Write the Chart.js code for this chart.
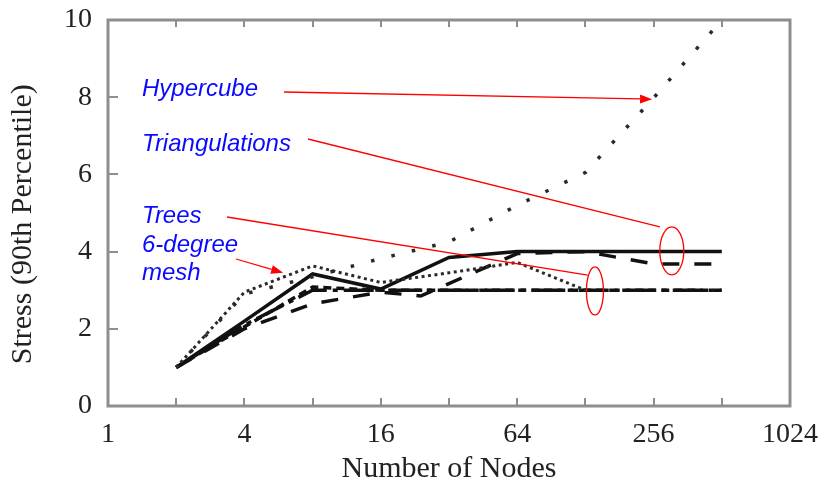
<!DOCTYPE html>
<html><head><meta charset="utf-8">
<script src="https://cdn.jsdelivr.net/npm/chart.js@4"></script>
<style>html,body{margin:0;padding:0;background:#fff;}#wrap{width:823px;height:487px;}</style>
</head><body><div id="wrap"><canvas id="c" width="823" height="487"></canvas></div>
<script>
// ---- data ----
const xTickValues = [1, 4, 16, 64, 256, 1024];
const xMinorTicks = [2, 4, 8, 16, 32, 64, 128, 256, 512];
const yTickValues = [0, 2, 4, 6, 8, 10];

const triangulationsN = [2, 4, 8, 16, 32, 64, 128, 256, 512];
const triangulationsY = [1, 2.2, 3.42, 3.03, 3.85, 4.0, 4.0, 4.0, 4.0];

const treesN = [2, 4, 8, 16, 24, 64, 128, 256, 512];
const treesY = [1, 2.0, 2.65, 2.95, 2.85, 3.95, 4.0, 3.68, 3.68];

const meshN = [2, 4, 8, 16, 32, 64, 128];
const meshY = [1, 2.95, 3.63, 3.2, 3.45, 3.72, 3.0];

const hypercubeN = [2, 4, 8, 16, 32, 64, 128, 256, 512];
const hypercubeY = [1, 2.9, 3.35, 3.82, 4.25, 5.2, 6.05, 7.98, 10];

const shortDashN = [2, 4, 8, 16, 32, 64, 128, 256, 512];
const shortDashY = [1, 2.05, 3.08, 3.0, 3.0, 3.0, 3.0, 3.0, 3.0];

const dashDotN = [2, 4, 8, 16, 32, 64, 128, 256, 512];
const dashDotY = [1, 2.1, 3.0, 3.0, 3.0, 3.0, 3.0, 3.0, 3.0];

// ---- annotations (labels in pixels, pointer targets in data units) ----
const noteTexts = ['Hypercube', 'Triangulations', 'Trees', '6-degree', 'mesh'];
const notePos = [[142, 96], [142, 151], [142, 223], [142, 252], [142, 280]];
const pointers = [
  {from: [284, 92], to: [252, 7.95], head: true},
  {from: [308, 139], to: [273, 4.64], head: false},
  {from: [227, 217], to: [131, 3.39], head: false},
  {from: [236, 259], to: [5.93, 3.45], head: true}
];
const ellipses = [
  {at: [308, 4.02], rx: 12, ry: 24},
  {at: [141, 2.98], rx: 8.5, ry: 24}
];

const serif = '"Liberation Serif", "Times New Roman", serif';
const pts = (ns, ys) => ns.map((n, i) => ({x: n, y: ys[i]}));
const mk = (label, ns, ys, dash, width, color) => ({
  label, data: pts(ns, ys), borderColor: color, borderWidth: width, borderDash: dash,
  pointRadius: 0, pointHoverRadius: 0, fill: false, tension: 0,
  borderCapStyle: 'butt', borderJoinStyle: 'miter'
});
const noPad = s => { s.paddingLeft = 0; s.paddingRight = 0; s.paddingTop = 0; s.paddingBottom = 0; };

const framePlugin = {
  id: 'frame',
  beforeDatasetsDraw(chart) {
    const {ctx, chartArea: a, scales: {x, y}} = chart;
    ctx.save();
    ctx.strokeStyle = '#8e8e8e';
    ctx.lineWidth = 3;
    ctx.strokeRect(a.left, a.top, a.right - a.left, a.bottom - a.top);
    ctx.lineWidth = 2;
    ctx.beginPath();
    xMinorTicks.forEach(v => {
      const px = Math.round(x.getPixelForValue(v));
      ctx.moveTo(px, a.bottom); ctx.lineTo(px, a.bottom - 8);
      ctx.moveTo(px, a.top); ctx.lineTo(px, a.top + 7);
    });
    yTickValues.slice(1, -1).forEach(v => {
      const py = Math.round(y.getPixelForValue(v));
      ctx.moveTo(a.left, py); ctx.lineTo(a.left + 10, py);
    });
    ctx.stroke();
    ctx.restore();
  },
  afterDraw(chart) {
    const {ctx, scales: {x, y}} = chart;
    ctx.save();
    ctx.font = 'italic 24px "Liberation Sans", Arial, sans-serif';
    ctx.fillStyle = '#0a0aff';
    ctx.textBaseline = 'alphabetic';
    noteTexts.forEach((t, i) => ctx.fillText(t, notePos[i][0], notePos[i][1]));
    ctx.strokeStyle = '#ff0000';
    ctx.fillStyle = '#ff0000';
    ctx.lineWidth = 1.3;
    pointers.forEach(p => {
      const x0 = p.from[0], y0 = p.from[1];
      const x1 = x.getPixelForValue(p.to[0]), y1 = y.getPixelForValue(p.to[1]);
      const ang = Math.atan2(y1 - y0, x1 - x0);
      const hl = p.head ? 12 : 0;
      ctx.beginPath();
      ctx.moveTo(x0, y0);
      ctx.lineTo(x1 - hl * Math.cos(ang), y1 - hl * Math.sin(ang));
      ctx.stroke();
      if (p.head) {
        ctx.beginPath();
        ctx.moveTo(x1, y1);
        ctx.lineTo(x1 - hl * Math.cos(ang) + 4.5 * Math.sin(ang), y1 - hl * Math.sin(ang) - 4.5 * Math.cos(ang));
        ctx.lineTo(x1 - hl * Math.cos(ang) - 4.5 * Math.sin(ang), y1 - hl * Math.sin(ang) + 4.5 * Math.cos(ang));
        ctx.closePath();
        ctx.fill();
      }
    });
    ellipses.forEach(e => {
      ctx.beginPath();
      ctx.ellipse(x.getPixelForValue(e.at[0]), y.getPixelForValue(e.at[1]), e.rx, e.ry, 0, 0, Math.PI * 2);
      ctx.stroke();
    });
    ctx.restore();
  }
};

new Chart(document.getElementById('c'), {
  type: 'line',
  data: {
    datasets: [
      mk('Hypercube', hypercubeN, hypercubeY, [3.5, 17.5], 3.5, '#2a2a2a'),
      mk('6-degree mesh', meshN, meshY, [3, 3.5], 3, '#2a2a2a'),
      mk('Trees', treesN, treesY, [17, 15], 3.5, '#111'),
      mk('Mesh (short dash)', shortDashN, shortDashY, [8, 5], 3.5, '#111'),
      mk('Mesh (dash-dot)', dashDotN, dashDotY, [30, 6, 5, 6], 3.5, '#111'),
      mk('Triangulations', triangulationsN, triangulationsY, [], 3.5, '#111')
    ]
  },
  options: {
    responsive: false,
    animation: false,
    events: [],
    layout: {padding: {top: 20, right: 33, left: 0, bottom: 0}},
    plugins: {legend: {display: false}, tooltip: {enabled: false}},
    scales: {
      x: {
        type: 'logarithmic', min: 1, max: 1024,
        afterBuildTicks: s => { s.ticks = xTickValues.map(v => ({value: v})); },
        afterFit: s => { s.height = 81; noPad(s); },
        grid: {display: false, drawTicks: false},
        border: {display: false},
        ticks: {padding: 12, color: '#222', autoSkip: false, maxRotation: 0,
                font: {family: serif, size: 28}, callback: v => String(v)},
        title: {display: true, text: 'Number of Nodes', color: '#222',
                font: {family: serif, size: 30}, padding: {top: 0, bottom: 0}}
      },
      y: {
        type: 'linear', min: 0, max: 10,
        afterBuildTicks: s => { s.ticks = yTickValues.map(v => ({value: v})); },
        afterFit: s => { s.width = 108; noPad(s); },
        grid: {display: false, drawTicks: false},
        border: {display: false},
        ticks: {padding: 16, color: '#222', font: {family: serif, size: 28}, callback: v => String(v)},
        title: {display: true, text: 'Stress (90th Percentile)   ', color: '#222',
                font: {family: serif, size: 30}, padding: {top: 5, bottom: 0}}
      }
    }
  },
  plugins: [framePlugin]
});
</script></body></html>
